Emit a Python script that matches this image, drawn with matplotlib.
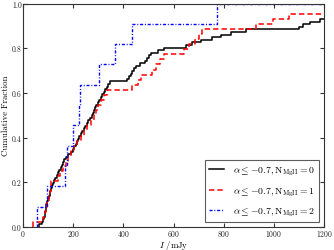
"""
cumulative flux distributions
"""

import numpy as np
import matplotlib
matplotlib.use('Agg')
import matplotlib.pyplot as plt

# flux values (mJy)
flux_n0 = [62, 76, 80, 84, 86, 88, 90, 92, 93, 95,
           99, 102, 106, 109, 112, 116, 120, 124, 129, 134,
           140, 145, 150, 155, 160, 165, 170, 178, 190, 200,
           205, 210, 215, 219, 224, 230, 236, 242, 248, 254,
           261, 267, 273, 278, 283, 288, 292, 297, 303, 309,
           315, 322, 328, 334, 340, 347, 415, 422, 430, 436,
           443, 450, 468, 485, 495, 503, 511, 540, 563, 650,
           675, 710, 752, 790, 830, 890, 1100, 1118, 1145, 1185,
           1250, 1320, 1450, 1600, 1900, 2500]
flux_n1 = [40, 80, 88, 92, 96, 103, 106, 110, 113, 140,
           148, 160, 170, 178, 190, 205, 215, 232, 243, 255,
           270, 282, 292, 300, 310, 322, 335, 435, 460, 470,
           515, 530, 545, 562, 643, 660, 685, 700, 712, 928,
           995, 1060, 1350, 1800]
flux_n2 = [57, 94, 167, 175, 200, 222, 226, 303, 367, 433, 773]

labels = [r'$\alpha \leq {-0.7}, \mathrm{N}_{\mathrm{MgII}} = 0$',
          r'$\alpha \leq {-0.7}, \mathrm{N}_{\mathrm{MgII}} = 1$',
          r'$\alpha \leq {-0.7}, \mathrm{N}_{\mathrm{MgII}} = 2$']


def cdf(vals):
    v = np.sort(np.asarray(vals, dtype=float))
    n = len(v)
    xs = np.concatenate([[v[0]], v, [1e5]])
    ys = np.concatenate([[0.0], np.arange(1, n + 1) / n, [1.0]])
    return xs, ys


if __name__ == '__main__':
    plt.rcParams['font.family'] = 'serif'
    plt.rcParams['font.serif'] = ['cmr10', 'DejaVu Serif']
    plt.rcParams['mathtext.fontset'] = 'cm'
    plt.rcParams['axes.unicode_minus'] = False
    plt.rcParams['axes.formatter.use_mathtext'] = True

    fig, ax = plt.subplots()
    fig.set_size_inches(3.34, 2.51)

    styles = [dict(color='k', ls='-', lw=1.1),
              dict(color='r', ls=(0, (3.5, 2)), lw=1.1),
              dict(color='b', ls=(0, (2.2, 1.3, 0.7, 1.3)), lw=1.0)]
    for vals, lab, st in zip([flux_n0, flux_n1, flux_n2], labels, styles):
        xs, ys = cdf(vals)
        ax.step(xs, ys, where='post', label=lab, **st)

    ax.set_xlim(0, 1200)
    ax.set_ylim(0, 1.0)
    ax.set_xticks(range(0, 1201, 200))
    ax.set_yticks(np.arange(0, 1.01, 0.2))
    ax.yaxis.set_major_formatter(matplotlib.ticker.FormatStrFormatter('%.1f'))
    ax.tick_params(direction='in', top=True, right=True, labelsize=5.5,
                   length=3, pad=1, colors='#333333', labelcolor='#222222')
    for s in ax.spines.values():
        s.set_linewidth(0.8)
        s.set_color('#333333')

    ax.set_xlabel(r'$I$ /mJy', fontsize=6.3, labelpad=0)
    ax.set_ylabel('Cumulative Fraction', fontsize=6.3, labelpad=1.5)

    leg = ax.legend(loc='lower right', fontsize=7, fancybox=False,
                    handlelength=1.5, handletextpad=1.0,
                    borderaxespad=0.5, labelspacing=0.75)
    leg.get_frame().set_edgecolor('#333333')
    leg.get_frame().set_linewidth(0.8)

    fig.subplots_adjust(left=0.069, right=0.970, bottom=0.092, top=0.982)
    fig.savefig('out.png', dpi=100)
